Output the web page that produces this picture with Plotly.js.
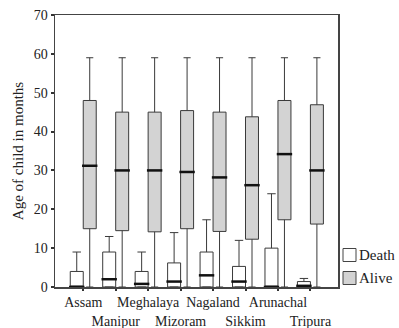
<!DOCTYPE html>
<html>
<head>
<meta charset="utf-8">
<script src="https://cdn.plot.ly/plotly-3.0.1.min.js"></script>
<style>html,body{margin:0;padding:0;background:#fff;}#chart{width:399px;height:328px;}</style>
</head>
<body>
<div id="chart"></div>
<script>
var states = ["Assam","Manipur","Meghalaya","Mizoram","Nagaland","Sikkim","Arunachal","Tripura"];
var tickLabels = ["Assam","<br>Manipur","Meghalaya","<br>Mizoram","Nagaland","<br>Sikkim","Arunachal","<br>Tripura"];
var seriesNames = ["Death","Alive"];
var seriesFills = ["#ffffff","#d3d3d3"];

var deathLow = [0, 0, 0, 0, 0, 0, 0, 0];
var deathQ1 = [0, 0, 0, 0, 0, 0, 0, 0];
var deathMedian = [0, 2, 0.8, 1.4, 3, 1.4, 0, 0.3];
var deathQ3 = [4, 9, 4, 6.2, 9, 5.3, 10, 1.4];
var deathHigh = [9, 13, 9, 14, 17.3, 12, 24, 2.2];

var aliveLow = [0, 0, 0, 0, 0, 0, 0, 0];
var aliveQ1 = [15, 14.5, 14.2, 15, 14.3, 12.3, 17.3, 16.2];
var aliveMedian = [31.2, 30, 30, 29.6, 28.2, 26.2, 34.2, 30];
var aliveQ3 = [48, 45, 45, 45.4, 45, 43.8, 48, 46.9];
var aliveHigh = [59, 59, 59, 59, 59, 59, 59, 59];

var serif = "Liberation Serif, Times New Roman, serif";
var xr = [-0.87, 7.85];
var W = 399, H = 328, ML = 55, MR = 61, MT = 15, MB = 41;
var pw = W - ML - MR, ph = H - MT - MB;

var idx = states.map(function(s, i){ return i; });

var traces = [
  {type:"box", name:seriesNames[0], x:states, q1:deathQ1, median:deathMedian, q3:deathQ3,
   lowerfence:deathLow, upperfence:deathHigh, fillcolor:seriesFills[0], showlegend:false,
   line:{color:"#3a3a3a", width:1}, whiskerwidth:0.65, boxpoints:false, hoverinfo:"skip"},
  {type:"box", name:seriesNames[1], x:states, q1:aliveQ1, median:aliveMedian, q3:aliveQ3,
   lowerfence:aliveLow, upperfence:aliveHigh, fillcolor:seriesFills[1], showlegend:false,
   line:{color:"#3a3a3a", width:1}, whiskerwidth:0.55, boxpoints:false, hoverinfo:"skip"},
  {type:"scatter", mode:"markers", xaxis:"x2", showlegend:false, hoverinfo:"skip",
   x: idx.map(function(i){ return i - 0.2; }), y: deathMedian,
   marker:{symbol:"line-ew", size:11, color:"#000", line:{color:"#111", width:2.5}}},
  {type:"scatter", mode:"markers", xaxis:"x2", showlegend:false, hoverinfo:"skip",
   x: idx.map(function(i){ return i + 0.2; }), y: aliveMedian,
   marker:{symbol:"line-ew", size:11, color:"#000", line:{color:"#111", width:2.5}}}
];

// manual legend (paper coordinates derived from pixel layout)
function px2x(p){ return (p - ML) / pw; }
function py2y(p){ return (H - MB - p) / ph; }
var shapes = [], annotations = [];
var legendRowsY = [255, 278];
seriesNames.forEach(function(n, k){
  var cy = legendRowsY[k];
  shapes.push({type:"rect", xref:"paper", yref:"paper",
    x0:px2x(343), x1:px2x(356), y0:py2y(cy + 6.5), y1:py2y(cy - 6.5),
    fillcolor:seriesFills[k], line:{color:"#444", width:1}});
  annotations.push({xref:"paper", yref:"paper", x:px2x(357), y:py2y(cy), xanchor:"left", yanchor:"middle",
    text:n, showarrow:false, font:{family:serif, size:15, color:"#222"}});
});

var layout = {
  width:W, height:H,
  margin:{l:ML, r:MR, t:MT, b:MB, autoexpand:false},
  paper_bgcolor:"#fff", plot_bgcolor:"#fff",
  font:{family:serif, size:14, color:"#222"},
  boxmode:"group", boxgap:0.2, boxgroupgap:0,
  showlegend:false,
  shapes:shapes, annotations:annotations,
  xaxis:{type:"category", categoryarray:states, range:xr, tickmode:"array", tickvals:states, ticktext:tickLabels,
         tickangle:0, showgrid:false, zeroline:false, showline:true, linecolor:"#444", linewidth:1.5, mirror:true,
         ticks:"outside", ticklen:2, tickwidth:2, tickcolor:"#333", tickfont:{family:serif, size:14, color:"#222"}},
  xaxis2:{overlaying:"x", range:xr, visible:false, showgrid:false, zeroline:false},
  yaxis:{range:[0,70], dtick:10, tick0:0, showgrid:false, zeroline:false, showline:true,
         linecolor:"#444", linewidth:1.5, mirror:true, ticks:"outside", ticklen:3, tickwidth:2, tickcolor:"#333",
         tickfont:{family:serif, size:14, color:"#222"},
         title:{text:"Age of child in months", font:{family:serif, size:15, color:"#222"}, standoff:6}}
};

Plotly.newPlot("chart", traces, layout, {displayModeBar:false, staticPlot:true});
</script>
</body>
</html>
